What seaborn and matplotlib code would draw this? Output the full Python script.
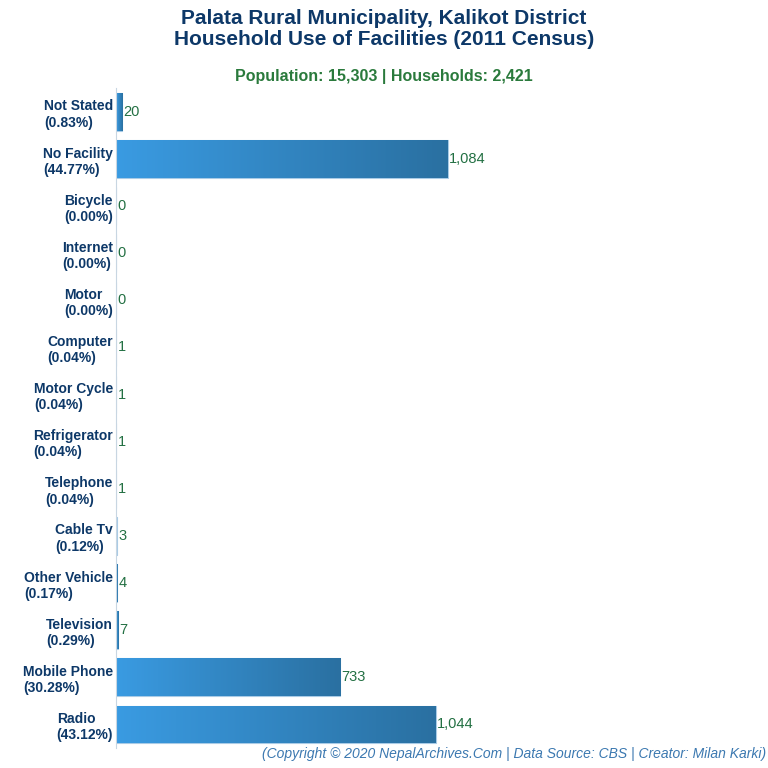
import matplotlib
matplotlib.use("Agg")
import matplotlib.pyplot as plt
import seaborn as sns
import numpy as np
from matplotlib.colors import LinearSegmentedColormap

categories = ["Not Stated", "No Facility", "Bicycle", "Internet", "Motor", "Computer",
              "Motor Cycle", "Refrigerator", "Telephone", "Cable Tv", "Other Vehicle",
              "Television", "Mobile Phone", "Radio"]
percents = ["0.83%", "44.77%", "0.00%", "0.00%", "0.00%", "0.04%", "0.04%", "0.04%",
            "0.04%", "0.12%", "0.17%", "0.29%", "30.28%", "43.12%"]
households = [20, 1084, 0, 0, 0, 1, 1, 1, 1, 3, 4, 7, 733, 1044]

sns.set_style("white")
plt.rcParams['font.family'] = ['Liberation Sans', 'DejaVu Sans']

navy = "#0d3868"
green = "#237043"

fig = plt.figure(figsize=(7.68, 7.68), dpi=100)
ax = fig.add_axes([0.151, 0.026, 0.849, 0.859])
labels = [c + "\n(" + p + ")" for c, p in zip(categories, percents)]
sns.barplot(x=households, y=labels, ax=ax, color="#2f86c8", orient="h", width=0.8,
            edgecolor="#a9cbe6", linewidth=0.8)

# left-to-right gradient inside each bar
cmap = LinearSegmentedColormap.from_list("bar", ["#3a9be2", "#2a70a1"])
grad = np.linspace(0, 1, 256).reshape(1, -1)
for patch in ax.patches:
    x0, y0 = patch.get_x(), patch.get_y()
    w, h = patch.get_width(), patch.get_height()
    if w <= 0:
        continue
    im = ax.imshow(grad, cmap=cmap, aspect="auto", extent=[x0, x0 + w, y0 + h, y0],
                   zorder=patch.get_zorder() + 0.1)
    im.set_clip_path(patch)

ax.set_xlim(0, 2130)
ax.set_ylim(len(categories) - 0.5, -0.5)

for i, v in enumerate(households):
    ax.text(v + 4, i, f"{v:,}", va="center", ha="left", fontsize=10.5, color=green)

ax.set_xticks([])
ax.tick_params(axis="y", length=0, pad=2)
for t in ax.get_yticklabels():
    t.set_fontweight("bold")
    t.set_color(navy)
    t.set_fontsize(10)
    t.set_multialignment("left")
for s in ["top", "right", "bottom"]:
    ax.spines[s].set_visible(False)
ax.spines["left"].set_color("#c8d6e2")
ax.spines["left"].set_linewidth(0.8)
ax.set_xlabel("")
ax.set_ylabel("")

fig.text(0.5, 0.988, "Palata Rural Municipality, Kalikot District\nHousehold Use of Facilities (2011 Census)",
         ha="center", va="top", fontsize=15, fontweight="bold", color=navy, linespacing=1.1)
fig.text(0.5, 0.901, "Population: 15,303 | Households: 2,421", ha="center", va="center",
         fontsize=11.5, fontweight="bold", color="#2a7a3c")
fig.text(0.997, 0.018, "(Copyright © 2020 NepalArchives.Com | Data Source: CBS | Creator: Milan Karki)",
         ha="right", va="center", fontsize=10, style="italic", color="#3b78b0")

fig.savefig("out.png", dpi=100)
